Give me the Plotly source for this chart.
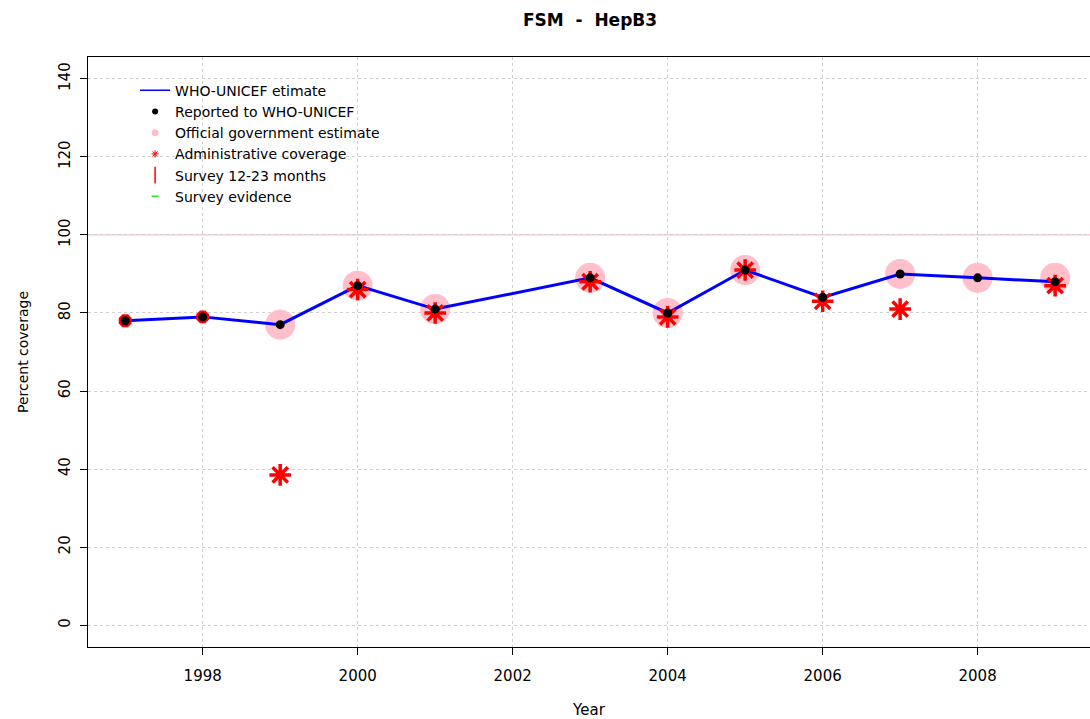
import plotly.graph_objects as go

years = [1997, 1998, 1999, 2000, 2001, 2002, 2003, 2004, 2005, 2006, 2007, 2008, 2009]
wuenic = [78, 79, 77, 87, 81, None, 89, 80, 91, 84, 90, 89, 88]
reported = [78, 79, 77, 87, 81, None, 89, 80, 91, 84, 90, 89, 88]
official = [None, None, 77, 87, 81, None, 89, 80, 91, None, 90, 89, 89]
admin = [None, None, 38.5, 86, 80, None, 88, 79, 91, 83, 81, None, 87]
admin_ring = [78, 79, None, None, None, None, None, None, None, None, None, None, None]

x_ticks = [1998, 2000, 2002, 2004, 2006, 2008]
y_ticks = [0, 20, 40, 60, 80, 100, 120, 140]

def pts(vals):
    xs = [y for y, v in zip(years, vals) if v is not None]
    ys = [v for v in vals if v is not None]
    return xs, ys

font = "DejaVu Sans, sans-serif"
fig = go.Figure()

# reference line at 100
fig.add_hline(y=100, line=dict(color="#ffc0cb", width=1.2), layer="below")

ox, oy = pts(official)
fig.add_trace(go.Scatter(x=ox, y=oy, mode="markers", showlegend=False,
                         marker=dict(color="pink", size=30, line=dict(width=0))))
lx, ly = pts(wuenic)
fig.add_trace(go.Scatter(x=lx, y=ly, mode="lines", showlegend=False,
                         line=dict(color="blue", width=3)))
rx, ry = pts(admin_ring)
fig.add_trace(go.Scatter(x=rx, y=ry, mode="markers", showlegend=False,
                         marker=dict(color="red", size=14, symbol="octagon", line=dict(width=0))))
ax, ay = pts(admin)
fig.add_trace(go.Scatter(x=ax, y=ay, mode="markers", showlegend=False,
                         marker=dict(color="red", size=18, symbol="asterisk-open",
                                     line=dict(color="red", width=3.5))))
bx, by = pts(reported)
fig.add_trace(go.Scatter(x=bx, y=by, mode="markers", showlegend=False,
                         marker=dict(color="black", size=9, line=dict(width=0))))

# legend entries
fig.add_trace(go.Scatter(x=[None], y=[None], mode="lines", name="WHO-UNICEF etimate",
                         line=dict(color="blue", width=1.5), legendrank=1))
fig.add_trace(go.Scatter(x=[None], y=[None], mode="markers", name="Reported to WHO-UNICEF",
                         marker=dict(color="black", size=6), legendrank=2))
fig.add_trace(go.Scatter(x=[None], y=[None], mode="markers", name="Official government estimate",
                         marker=dict(color="pink", size=7), legendrank=3))
fig.add_trace(go.Scatter(x=[None], y=[None], mode="markers", name="Administrative coverage",
                         marker=dict(color="red", size=6, symbol="asterisk-open",
                                     line=dict(color="red", width=1)), legendrank=4))
fig.add_trace(go.Scatter(x=[None], y=[None], mode="markers", name="Survey 12-23 months",
                         marker=dict(color="red", size=12, symbol="line-ns-open",
                                     line=dict(color="red", width=1.5)), legendrank=5))
fig.add_trace(go.Scatter(x=[None], y=[None], mode="markers", name="Survey evidence",
                         marker=dict(color="#22ee22", size=5, symbol="line-ew-open",
                                     line=dict(color="#22ee22", width=1.5)), legendrank=6))

W, H = 1090, 719
fig.update_layout(
    width=W, height=H,
    margin=dict(l=88, r=0, t=57, b=72, autoexpand=False),
    paper_bgcolor="white", plot_bgcolor="white",
    font=dict(family=font, color="black", size=14),
    title=dict(text="<b>FSM  -  HepB3</b>", x=590 / W, xanchor="center",
               y=1 - 20 / H, yanchor="middle", font=dict(size=17, family=font)),
    legend=dict(x=0.047, y=0.97, xanchor="left", yanchor="top", bgcolor="rgba(0,0,0,0)",
                font=dict(size=14, family=font), itemsizing="trace", tracegroupgap=0),
    showlegend=True,
)
fig.update_xaxes(range=[1996.52, 2009.45], tickmode="array", tickvals=x_ticks,
                 ticktext=[str(v) for v in x_ticks], automargin=False,
                 showline=True, linecolor="black", linewidth=1, mirror=True,
                 ticks="outside", ticklen=7, tickcolor="black", ticklabelstandoff=8,
                 tickfont=dict(size=15),
                 showgrid=True, gridcolor="#d0d0d0", griddash="dot", gridwidth=1,
                 zeroline=False, title=dict(text="Year", standoff=24, font=dict(size=15)))
fig.update_yaxes(range=[-5.6, 145.6], tickmode="array", tickvals=y_ticks,
                 ticktext=[str(v) for v in y_ticks], tickangle=-90, automargin=False,
                 showline=True, linecolor="black", linewidth=1, mirror=False,
                 ticks="outside", ticklen=7, tickcolor="black", ticklabelstandoff=4,
                 tickfont=dict(size=15),
                 showgrid=True, gridcolor="#d0d0d0", griddash="dot", gridwidth=1,
                 zeroline=False, title=dict(text="Percent coverage", standoff=24, font=dict(size=14)))

fig.write_html("out.html", config={"displayModeBar": False},
               post_script="document.body.style.margin='0';document.body.style.overflow='hidden';")
